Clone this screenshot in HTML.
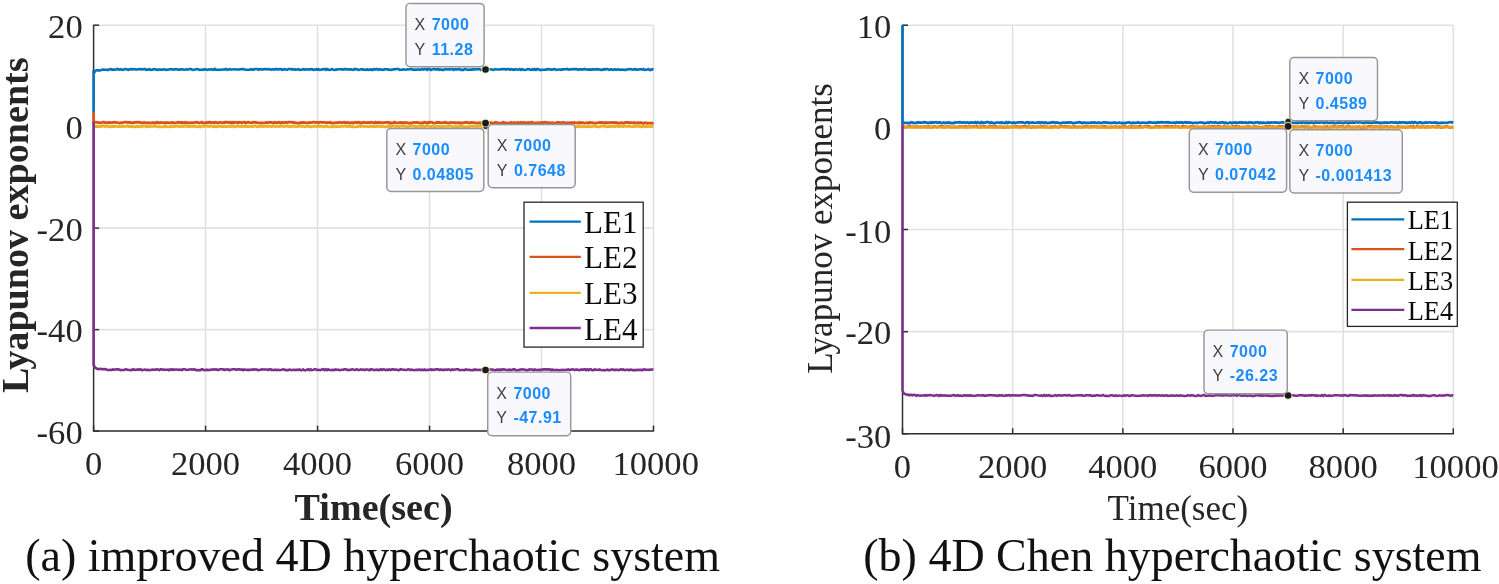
<!DOCTYPE html>
<html><head><meta charset="utf-8"><title>Lyapunov exponents</title>
<style>
html,body{margin:0;padding:0;background:#fff;}
body{width:1499px;height:584px;overflow:hidden;font-family:"Liberation Serif",serif;}
svg{display:block;position:absolute;left:0;top:0;will-change:transform;}
.g{stroke:#e1e1e1;stroke-width:1.6;}
.ax{stroke:#303030;stroke-width:1.5;}
.tk{font-family:"Liberation Serif",serif;fill:#262626;}
.lb{font-family:"Liberation Serif",serif;fill:#262626;}
.lg{font-family:"Liberation Serif",serif;fill:#0a0a0a;}
.cap{font-family:"Liberation Serif",serif;fill:#111;}
.tl{font-family:"Liberation Sans",sans-serif;font-size:16px;fill:#404040;}
.tv{font-family:"Liberation Sans",sans-serif;font-size:16px;font-weight:bold;fill:#1a8cff;letter-spacing:0.5px;}
</style></head><body>
<svg width="1499" height="584" viewBox="0 0 1499 584">
<rect x="0" y="0" width="1499" height="584" fill="#ffffff"/>
<line x1="205.58" y1="25.2" x2="205.58" y2="431.1" class="g"/>
<line x1="317.56" y1="25.2" x2="317.56" y2="431.1" class="g"/>
<line x1="429.54" y1="25.2" x2="429.54" y2="431.1" class="g"/>
<line x1="541.52" y1="25.2" x2="541.52" y2="431.1" class="g"/>
<line x1="653.50" y1="25.2" x2="653.50" y2="431.1" class="g"/>
<line x1="93.6" y1="25.20" x2="653.5" y2="25.20" class="g"/>
<line x1="93.6" y1="126.68" x2="653.5" y2="126.68" class="g"/>
<line x1="93.6" y1="228.15" x2="653.5" y2="228.15" class="g"/>
<line x1="93.6" y1="329.63" x2="653.5" y2="329.63" class="g"/>
<line x1="93.6" y1="431.10" x2="653.5" y2="431.10" class="g"/>
<line x1="93.6" y1="24.7" x2="93.6" y2="431.6" class="ax"/>
<line x1="93.1" y1="431.1" x2="654.0" y2="431.1" class="ax"/>
<line x1="93.60" y1="431.1" x2="93.60" y2="425.6" class="ax"/>
<text x="93.60" y="474.70000000000005" text-anchor="middle" class="tk" font-size="34.6">0</text>
<line x1="205.58" y1="431.1" x2="205.58" y2="425.6" class="ax"/>
<text x="205.58" y="474.70000000000005" text-anchor="middle" class="tk" font-size="34.6">2000</text>
<line x1="317.56" y1="431.1" x2="317.56" y2="425.6" class="ax"/>
<text x="317.56" y="474.70000000000005" text-anchor="middle" class="tk" font-size="34.6">4000</text>
<line x1="429.54" y1="431.1" x2="429.54" y2="425.6" class="ax"/>
<text x="429.54" y="474.70000000000005" text-anchor="middle" class="tk" font-size="34.6">6000</text>
<line x1="541.52" y1="431.1" x2="541.52" y2="425.6" class="ax"/>
<text x="541.52" y="474.70000000000005" text-anchor="middle" class="tk" font-size="34.6">8000</text>
<line x1="653.50" y1="431.1" x2="653.50" y2="425.6" class="ax"/>
<text x="655.70" y="474.70000000000005" text-anchor="middle" class="tk" font-size="34.6">10000</text>
<line x1="93.6" y1="25.20" x2="99.1" y2="25.20" class="ax"/>
<text x="82.69999999999999" y="37.90" text-anchor="end" class="tk" font-size="34.6">20</text>
<line x1="93.6" y1="126.68" x2="99.1" y2="126.68" class="ax"/>
<text x="82.69999999999999" y="139.38" text-anchor="end" class="tk" font-size="34.6">0</text>
<line x1="93.6" y1="228.15" x2="99.1" y2="228.15" class="ax"/>
<text x="82.69999999999999" y="240.85" text-anchor="end" class="tk" font-size="34.6">-20</text>
<line x1="93.6" y1="329.63" x2="99.1" y2="329.63" class="ax"/>
<text x="82.69999999999999" y="342.33" text-anchor="end" class="tk" font-size="34.6">-40</text>
<line x1="93.6" y1="431.10" x2="99.1" y2="431.10" class="ax"/>
<text x="82.69999999999999" y="443.80" text-anchor="end" class="tk" font-size="34.6">-60</text>
<path d="M93.6,124.6L95.3,126.4L96.5,126.11L97.8,126.42L99.0,126.24L100.3,126.48L101.5,126.50L102.8,125.94L104.0,125.88L105.3,126.71L106.5,126.13L107.8,126.11L109.0,126.87L110.3,126.34L111.6,126.71L112.8,126.35L114.1,126.51L115.3,126.02L116.6,126.51L117.8,126.74L119.1,126.40L120.3,126.61L121.6,126.54L122.8,125.94L124.1,126.63L125.3,126.46L126.6,126.18L127.8,125.91L129.1,126.74L130.3,126.35L131.6,126.59L132.8,126.75L134.1,126.59L135.3,126.80L136.6,126.27L137.8,126.68L139.1,126.32L140.3,126.81L141.6,126.75L142.8,125.97L144.1,126.01L145.3,126.09L146.6,126.84L147.8,126.31L149.1,126.50L150.4,126.18L151.6,126.38L152.9,126.26L154.1,126.23L155.4,126.46L156.6,126.46L157.9,126.78L159.1,126.56L160.4,126.81L161.6,126.73L162.9,126.87L164.1,126.55L165.4,126.04L166.6,126.74L167.9,126.84L169.1,126.78L170.4,126.45L171.6,126.59L172.9,126.09L174.1,126.71L175.4,126.45L176.6,126.16L177.9,125.94L179.1,126.73L180.4,126.87L181.6,125.97L182.9,126.68L184.1,126.29L185.4,126.03L186.6,126.17L187.9,126.65L189.2,126.75L190.4,125.93L191.7,126.50L192.9,125.93L194.2,126.60L195.4,126.21L196.7,126.76L197.9,126.86L199.2,126.39L200.4,126.88L201.7,126.19L202.9,125.96L204.2,126.48L205.4,125.91L206.7,126.08L207.9,126.29L209.2,126.49L210.4,126.04L211.7,125.93L212.9,126.75L214.2,126.20L215.4,126.84L216.7,126.78L217.9,126.26L219.2,126.34L220.4,126.40L221.7,126.53L222.9,126.48L224.2,126.44L225.4,126.50L226.7,126.83L228.0,126.39L229.2,126.32L230.5,126.61L231.7,126.12L233.0,126.19L234.2,126.86L235.5,126.41L236.7,126.43L238.0,125.90L239.2,126.30L240.5,126.47L241.7,125.91L243.0,126.50L244.2,126.52L245.5,125.95L246.7,126.51L248.0,126.35L249.2,126.57L250.5,126.24L251.7,126.59L253.0,126.63L254.2,125.91L255.5,125.95L256.7,126.56L258.0,126.85L259.2,126.14L260.5,126.34L261.7,126.48L263.0,126.21L264.2,126.25L265.5,126.20L266.8,126.26L268.0,126.49L269.3,126.19L270.5,126.27L271.8,126.66L273.0,125.92L274.3,126.46L275.5,126.63L276.8,126.20L278.0,126.11L279.3,126.69L280.5,126.13L281.8,126.08L283.0,126.33L284.3,126.59L285.5,125.99L286.8,126.21L288.0,126.23L289.3,126.73L290.5,126.33L291.8,126.75L293.0,126.06L294.3,126.23L295.5,126.54L296.8,126.78L298.0,126.34L299.3,126.12L300.5,126.01L301.8,126.42L303.0,126.08L304.3,126.70L305.6,126.73L306.8,126.08L308.1,126.17L309.3,126.70L310.6,126.54L311.8,126.70L313.1,126.24L314.3,126.02L315.6,126.19L316.8,126.69L318.1,126.17L319.3,126.24L320.6,126.31L321.8,126.32L323.1,126.30L324.3,126.82L325.6,126.05L326.8,125.90L328.1,126.84L329.3,126.78L330.6,126.88L331.8,126.33L333.1,126.85L334.3,126.82L335.6,126.12L336.8,126.64L338.1,126.73L339.3,126.56L340.6,126.42L341.8,126.19L343.1,126.24L344.4,126.13L345.6,125.97L346.9,126.49L348.1,126.19L349.4,126.71L350.6,125.94L351.9,126.80L353.1,126.59L354.4,126.82L355.6,126.80L356.9,126.80L358.1,126.48L359.4,125.91L360.6,126.64L361.9,126.07L363.1,126.20L364.4,126.56L365.6,126.43L366.9,126.31L368.1,126.84L369.4,126.51L370.6,126.24L371.9,126.15L373.1,126.76L374.4,126.38L375.6,126.68L376.9,126.25L378.1,126.10L379.4,126.44L380.6,126.72L381.9,126.07L383.2,126.69L384.4,126.82L385.7,126.71L386.9,126.73L388.2,125.91L389.4,126.53L390.7,126.77L391.9,125.95L393.2,126.17L394.4,126.17L395.7,126.43L396.9,126.33L398.2,126.38L399.4,126.68L400.7,125.91L401.9,125.96L403.2,126.03L404.4,126.03L405.7,125.97L406.9,126.88L408.2,126.76L409.4,125.99L410.7,126.41L411.9,126.22L413.2,126.22L414.4,126.26L415.7,126.55L416.9,126.49L418.2,126.27L419.4,126.10L420.7,126.23L422.0,126.03L423.2,126.46L424.5,126.62L425.7,126.29L427.0,125.99L428.2,126.09L429.5,126.28L430.7,126.51L432.0,126.69L433.2,126.29L434.5,126.71L435.7,126.53L437.0,126.34L438.2,126.28L439.5,126.40L440.7,126.61L442.0,126.33L443.2,126.60L444.5,126.37L445.7,126.15L447.0,126.44L448.2,126.60L449.5,125.98L450.7,126.33L452.0,126.34L453.2,126.79L454.5,126.85L455.7,126.28L457.0,126.81L458.2,126.70L459.5,126.17L460.8,126.37L462.0,126.03L463.3,126.72L464.5,126.57L465.8,126.80L467.0,126.70L468.3,126.58L469.5,126.65L470.8,126.48L472.0,126.01L473.3,126.50L474.5,125.92L475.8,126.06L477.0,126.69L478.3,125.96L479.5,126.00L480.8,126.01L482.0,126.79L483.3,126.09L484.5,125.94L485.8,126.75L487.0,126.03L488.3,126.76L489.5,126.59L490.8,126.75L492.0,126.87L493.3,126.49L494.5,126.71L495.8,125.95L497.0,126.68L498.3,126.43L499.6,126.63L500.8,126.02L502.1,126.66L503.3,126.85L504.6,125.98L505.8,126.24L507.1,126.48L508.3,126.74L509.6,126.16L510.8,126.10L512.1,126.17L513.3,126.53L514.6,126.67L515.8,126.31L517.1,126.28L518.3,126.31L519.6,126.27L520.8,126.34L522.1,126.00L523.3,126.42L524.6,126.89L525.8,126.33L527.1,126.67L528.3,126.08L529.6,126.61L530.8,126.67L532.1,126.59L533.3,126.44L534.6,126.40L535.8,126.56L537.1,126.82L538.4,126.07L539.6,126.01L540.9,126.67L542.1,126.84L543.4,126.44L544.6,126.36L545.9,126.64L547.1,126.11L548.4,126.19L549.6,126.12L550.9,126.51L552.1,126.24L553.4,126.15L554.6,126.61L555.9,126.87L557.1,126.22L558.4,126.63L559.6,126.33L560.9,126.77L562.1,126.51L563.4,126.19L564.6,126.14L565.9,125.95L567.1,126.40L568.4,126.30L569.6,126.09L570.9,126.28L572.1,126.24L573.4,126.70L574.6,126.07L575.9,126.91L577.2,126.40L578.4,126.52L579.7,126.39L580.9,126.76L582.2,126.75L583.4,126.48L584.7,126.41L585.9,126.64L587.2,126.78L588.4,126.32L589.7,126.66L590.9,126.88L592.2,126.39L593.4,126.15L594.7,126.16L595.9,126.64L597.2,126.60L598.4,126.88L599.7,126.78L600.9,126.17L602.2,126.12L603.4,126.18L604.7,126.11L605.9,126.63L607.2,126.79L608.4,126.83L609.7,126.18L610.9,126.79L612.2,126.24L613.4,126.35L614.7,126.66L616.0,126.01L617.2,126.02L618.5,126.76L619.7,126.22L621.0,126.28L622.2,126.51L623.5,126.60L624.7,125.94L626.0,126.26L627.2,126.36L628.5,126.41L629.7,126.14L631.0,126.51L632.2,126.88L633.5,126.32L634.7,126.47L636.0,126.05L637.2,126.20L638.5,126.60L639.7,126.04L641.0,126.82L642.2,126.84L643.5,126.03L644.7,126.87L646.0,126.30L647.2,126.70L648.5,126.69L649.7,126.23L651.0,126.61L652.2,126.59L653.5,126.43" fill="none" stroke="#EDB120" stroke-width="2.8" stroke-opacity="1" stroke-linejoin="miter" stroke-miterlimit="2"/>
<path d="M93.6,111.5L93.6,121.9L99.2,122.5L100.5,122.97L101.7,122.96L103.0,122.07L104.2,122.10L105.5,122.85L106.7,122.75L108.0,122.69L109.2,122.33L110.5,122.63L111.7,122.63L113.0,122.60L114.2,122.18L115.5,122.45L116.7,122.42L118.0,122.75L119.2,123.02L120.5,122.97L121.7,122.57L123.0,122.47L124.2,122.30L125.5,122.06L126.7,122.06L128.0,122.49L129.2,122.35L130.5,122.41L131.7,122.92L133.0,122.56L134.2,122.59L135.5,122.27L136.7,122.06L138.0,122.36L139.2,122.17L140.5,122.55L141.7,123.03L143.0,122.71L144.2,122.22L145.5,122.93L146.7,122.84L148.0,122.77L149.2,122.95L150.5,122.80L151.8,122.83L153.0,122.40L154.3,123.02L155.5,123.00L156.8,122.20L158.0,122.80L159.3,122.76L160.5,122.51L161.8,122.58L163.0,122.54L164.3,122.97L165.5,122.55L166.8,122.88L168.0,122.40L169.3,122.93L170.5,122.95L171.8,122.51L173.0,122.62L174.3,122.97L175.5,122.78L176.8,122.54L178.0,122.28L179.3,122.38L180.5,122.76L181.8,122.22L183.0,122.96L184.3,122.33L185.5,122.97L186.8,122.37L188.0,123.02L189.3,122.77L190.5,122.56L191.8,122.58L193.0,122.71L194.3,122.65L195.5,122.38L196.8,122.27L198.0,122.58L199.3,123.00L200.5,122.69L201.8,122.14L203.1,122.89L204.3,122.79L205.6,122.98L206.8,122.26L208.1,122.81L209.3,122.13L210.6,122.72L211.8,122.34L213.1,122.30L214.3,122.95L215.6,122.18L216.8,122.60L218.1,122.93L219.3,122.32L220.6,122.29L221.8,122.96L223.1,122.50L224.3,122.79L225.6,122.11L226.8,122.44L228.1,122.25L229.3,122.75L230.6,122.16L231.8,123.04L233.1,122.11L234.3,122.81L235.6,122.10L236.8,122.34L238.1,122.90L239.3,122.24L240.6,122.27L241.8,122.78L243.1,122.47L244.3,122.13L245.6,123.08L246.8,122.24L248.1,122.13L249.3,122.43L250.6,122.71L251.9,122.83L253.1,122.21L254.4,122.43L255.6,122.12L256.9,122.54L258.1,122.86L259.4,122.84L260.6,123.00L261.9,122.85L263.1,122.96L264.4,122.80L265.6,122.57L266.9,122.32L268.1,122.76L269.4,122.42L270.6,122.20L271.9,122.55L273.1,122.98L274.4,122.23L275.6,122.69L276.9,122.50L278.1,122.62L279.4,122.25L280.6,123.07L281.9,122.37L283.1,122.71L284.4,122.53L285.6,122.13L286.9,122.67L288.1,122.25L289.4,122.17L290.6,122.14L291.9,122.27L293.1,122.21L294.4,122.75L295.6,122.62L296.9,123.10L298.1,123.05L299.4,123.11L300.6,122.35L301.9,122.56L303.2,122.37L304.4,122.71L305.7,122.74L306.9,122.92L308.2,122.83L309.4,122.38L310.7,122.54L311.9,122.65L313.2,122.13L314.4,122.16L315.7,122.53L316.9,122.24L318.2,122.85L319.4,122.37L320.7,122.23L321.9,122.31L323.2,122.36L324.4,122.35L325.7,122.65L326.9,122.59L328.2,122.44L329.4,122.77L330.7,122.34L331.9,123.04L333.2,123.10L334.4,122.86L335.7,122.57L336.9,122.65L338.2,122.72L339.4,122.19L340.7,122.55L341.9,122.66L343.2,122.32L344.4,122.23L345.7,122.94L346.9,122.51L348.2,122.66L349.4,123.06L350.7,122.75L352.0,122.43L353.2,123.13L354.5,122.52L355.7,122.16L357.0,122.83L358.2,122.25L359.5,122.45L360.7,122.99L362.0,122.82L363.2,122.16L364.5,122.60L365.7,122.56L367.0,122.64L368.2,122.36L369.5,122.74L370.7,122.23L372.0,122.44L373.2,122.53L374.5,123.09L375.7,122.23L377.0,122.91L378.2,122.35L379.5,122.73L380.7,122.55L382.0,122.62L383.2,122.91L384.5,122.55L385.7,122.28L387.0,122.28L388.2,122.24L389.5,123.01L390.7,122.80L392.0,123.12L393.2,122.86L394.5,122.19L395.7,122.82L397.0,122.94L398.2,122.89L399.5,122.66L400.7,122.52L402.0,122.62L403.3,122.97L404.5,122.44L405.8,122.70L407.0,122.65L408.3,123.13L409.5,122.98L410.8,123.10L412.0,123.01L413.3,122.47L414.5,122.41L415.8,122.66L417.0,122.43L418.3,122.60L419.5,122.86L420.8,123.10L422.0,122.76L423.3,123.00L424.5,122.27L425.8,122.54L427.0,123.18L428.3,122.33L429.5,122.60L430.8,122.25L432.0,122.27L433.3,123.08L434.5,123.17L435.8,122.83L437.0,122.31L438.3,122.48L439.5,122.42L440.8,122.86L442.0,122.87L443.3,122.63L444.5,122.71L445.8,122.30L447.0,122.73L448.3,123.14L449.5,122.95L450.8,122.29L452.0,122.71L453.3,122.91L454.6,122.45L455.8,123.09L457.1,122.66L458.3,122.90L459.6,122.60L460.8,123.19L462.1,122.98L463.3,122.77L464.6,122.34L465.8,122.64L467.1,122.23L468.3,122.80L469.6,123.08L470.8,122.38L472.1,122.71L473.3,122.69L474.6,122.61L475.8,122.92L477.1,123.14L478.3,122.91L479.6,122.68L480.8,123.17L482.1,122.54L483.3,122.95L484.6,122.87L485.8,122.97L487.1,123.06L488.3,122.44L489.6,122.83L490.8,122.62L492.1,122.88L493.3,123.19L494.6,122.85L495.8,122.23L497.1,122.68L498.3,122.93L499.6,123.10L500.8,122.87L502.1,123.03L503.4,122.24L504.6,123.16L505.9,122.95L507.1,122.83L508.4,123.13L509.6,123.11L510.9,122.32L512.1,123.04L513.4,122.99L514.6,122.42L515.9,122.97L517.1,122.81L518.4,122.42L519.6,123.03L520.9,122.37L522.1,122.84L523.4,122.66L524.6,122.48L525.9,122.80L527.1,122.70L528.4,122.44L529.6,123.20L530.9,122.31L532.1,122.24L533.4,122.72L534.6,123.07L535.9,122.89L537.1,122.99L538.4,122.72L539.6,122.91L540.9,122.57L542.1,122.51L543.4,122.74L544.6,122.27L545.9,122.32L547.1,122.99L548.4,122.42L549.6,122.99L550.9,123.03L552.1,122.65L553.4,122.92L554.7,123.03L555.9,123.11L557.2,122.38L558.4,122.41L559.7,122.63L560.9,122.71L562.2,122.54L563.4,122.26L564.7,122.81L565.9,123.22L567.2,122.62L568.4,122.79L569.7,122.63L570.9,122.70L572.2,123.12L573.4,122.56L574.7,122.90L575.9,122.74L577.2,122.79L578.4,123.17L579.7,122.33L580.9,123.08L582.2,122.56L583.4,122.91L584.7,123.06L585.9,122.91L587.2,122.65L588.4,123.10L589.7,122.36L590.9,122.90L592.2,122.65L593.4,122.79L594.7,123.12L595.9,123.06L597.2,122.89L598.4,122.57L599.7,122.50L600.9,122.73L602.2,122.50L603.5,122.55L604.7,123.23L606.0,122.38L607.2,123.09L608.5,122.65L609.7,122.64L611.0,122.59L612.2,122.35L613.5,122.73L614.7,122.44L616.0,122.72L617.2,122.57L618.5,123.17L619.7,123.20L621.0,122.72L622.2,122.92L623.5,123.21L624.7,122.61L626.0,122.38L627.2,122.52L628.5,122.47L629.7,122.96L631.0,122.66L632.2,122.64L633.5,123.08L634.7,122.52L636.0,123.09L637.2,122.92L638.5,122.69L639.7,123.11L641.0,122.63L642.2,123.17L643.5,123.22L644.7,122.79L646.0,122.98L647.2,123.24L648.5,123.03L649.7,123.04L651.0,123.16L652.2,123.23L653.5,122.79" fill="none" stroke="#D95319" stroke-width="2.8" stroke-opacity="1" stroke-linejoin="miter" stroke-miterlimit="2"/>
<path d="M93.6,111.5L93.6,70.6L94.7,72.1L95.8,70.6L97.4,70.05L98.9,70.58L100.5,70.30L102.0,69.85L103.3,69.57L104.5,69.77L105.8,69.69L107.1,69.85L108.4,69.95L109.6,69.22L110.9,69.12L112.2,69.89L113.5,69.45L114.7,69.74L116.0,69.44L117.2,68.95L118.5,69.39L119.7,69.66L121.0,69.17L122.2,69.89L123.5,69.84L124.7,68.97L126.0,68.97L127.2,69.48L128.5,69.88L129.7,69.32L131.0,69.16L132.2,69.37L133.5,68.97L134.7,69.16L136.0,69.38L137.2,69.44L138.5,69.18L139.7,69.17L141.0,69.16L142.2,69.40L143.5,69.23L144.7,68.96L146.0,69.78L147.2,69.50L148.5,69.59L149.7,69.13L151.0,69.94L152.2,69.80L153.5,69.06L154.7,69.28L156.0,69.66L157.2,69.65L158.5,69.88L159.7,69.37L161.0,69.77L162.2,69.61L163.5,69.25L164.7,69.53L166.0,69.83L167.2,69.79L168.5,69.45L169.7,69.53L171.0,68.98L172.2,69.19L173.5,69.74L174.7,69.36L176.0,69.12L177.2,69.49L178.5,69.65L179.7,69.62L181.0,69.32L182.2,69.38L183.5,69.45L184.7,69.72L186.0,69.46L187.2,69.34L188.5,69.43L189.7,68.97L191.0,68.99L192.2,69.65L193.5,69.93L194.7,69.54L196.0,69.34L197.2,69.11L198.5,69.45L199.7,69.93L201.0,69.71L202.2,69.48L203.5,69.80L204.7,69.18L206.0,69.46L207.2,69.90L208.5,69.52L209.7,69.40L211.0,69.21L212.2,69.49L213.5,69.90L214.7,68.95L216.0,69.73L217.2,69.76L218.5,69.83L219.7,69.68L221.0,69.75L222.2,69.46L223.5,69.50L224.7,69.37L226.0,69.00L227.2,69.81L228.5,69.51L229.7,69.14L231.0,69.45L232.2,69.43L233.5,69.30L234.7,69.29L236.0,69.48L237.2,69.57L238.5,69.56L239.7,69.40L241.0,68.97L242.2,69.17L243.5,69.12L244.7,69.53L246.0,69.80L247.2,69.74L248.5,69.74L249.7,69.76L251.0,69.20L252.2,69.78L253.5,69.62L254.7,69.03L256.0,68.96L257.2,68.96L258.5,69.70L259.7,69.19L261.0,69.05L262.2,69.57L263.5,69.29L264.7,69.01L266.0,69.10L267.2,69.47L268.5,69.11L269.7,69.22L271.0,69.65L272.2,69.40L273.5,69.27L274.7,69.42L276.0,68.97L277.2,69.33L278.5,69.36L279.7,69.13L281.0,69.05L282.2,69.84L283.5,69.45L284.7,69.15L286.0,69.55L287.2,69.76L288.5,68.96L289.7,68.96L291.0,69.09L292.2,69.66L293.5,69.10L294.7,69.65L296.0,69.62L297.2,69.49L298.5,69.16L299.7,69.92L301.0,69.74L302.2,69.46L303.5,69.17L304.7,69.59L306.0,69.34L307.2,69.52L308.5,69.26L309.7,69.57L311.0,69.00L312.2,69.24L313.5,69.91L314.7,69.82L316.0,69.25L317.2,69.80L318.5,69.25L319.7,69.88L321.0,69.69L322.2,69.36L323.5,69.20L324.7,68.95L326.0,69.82L327.2,68.98L328.5,69.76L329.7,69.91L331.0,69.51L332.2,69.11L333.5,69.81L334.7,69.92L336.0,69.65L337.2,69.45L338.5,69.32L339.7,69.29L341.0,69.15L342.2,69.62L343.5,69.38L344.7,69.14L346.0,69.05L347.2,69.61L348.5,69.24L349.7,69.44L351.0,69.27L352.2,69.81L353.5,69.84L354.7,68.96L356.0,69.14L357.2,69.27L358.5,69.93L359.7,69.73L361.0,69.28L362.2,69.16L363.5,69.62L364.7,69.78L366.0,69.88L367.2,69.29L368.5,69.83L369.7,69.63L371.0,69.43L372.2,69.93L373.5,69.18L374.7,69.67L376.0,69.03L377.2,69.11L378.5,69.85L379.7,69.16L381.0,69.70L382.2,69.54L383.5,69.78L384.7,69.31L386.0,69.28L387.2,69.23L388.5,69.81L389.7,69.55L391.0,69.90L392.2,69.83L393.5,69.08L394.7,69.49L396.0,69.05L397.2,68.98L398.5,69.02L399.7,69.81L401.0,69.73L402.2,69.77L403.5,69.28L404.7,69.56L406.0,69.73L407.2,69.32L408.5,69.51L409.7,69.17L411.0,69.02L412.2,69.21L413.5,69.83L414.7,69.51L416.0,69.87L417.2,69.40L418.5,69.22L419.7,69.73L421.0,69.77L422.2,68.96L423.5,69.61L424.7,69.03L426.0,69.06L427.2,69.83L428.5,68.98L429.7,69.18L431.0,69.93L432.2,69.36L433.5,69.06L434.7,69.11L436.0,69.18L437.2,69.69L438.5,69.05L439.7,69.85L441.0,69.32L442.2,69.91L443.5,69.85L444.7,69.24L446.0,69.20L447.2,69.42L448.5,69.04L449.7,69.60L451.0,68.98L452.2,68.95L453.5,69.93L454.7,69.24L456.0,69.54L457.2,69.39L458.5,69.26L459.7,69.01L461.0,69.86L462.2,69.91L463.5,69.91L464.7,69.05L466.0,69.16L467.2,69.56L468.5,69.92L469.7,69.49L471.0,69.63L472.2,69.60L473.5,69.20L474.7,69.48L476.0,69.25L477.2,69.19L478.5,69.02L479.7,69.22L481.0,69.93L482.2,69.39L483.5,69.60L484.7,69.59L486.0,69.88L487.2,69.33L488.5,69.25L489.7,69.27L491.0,69.26L492.2,69.79L493.5,69.84L494.7,69.25L496.0,69.28L497.2,69.49L498.5,69.52L499.7,69.54L501.0,69.19L502.2,68.96L503.5,69.19L504.7,69.02L506.0,69.49L507.2,69.01L508.5,69.02L509.7,69.58L511.0,69.23L512.2,69.74L513.5,69.44L514.7,69.81L516.0,69.10L517.2,69.44L518.5,69.74L519.7,69.02L521.0,69.89L522.2,69.12L523.5,69.72L524.7,69.93L526.0,69.76L527.2,69.26L528.5,69.05L529.7,69.46L531.0,69.86L532.2,69.24L533.5,69.84L534.7,69.08L536.0,69.85L537.2,68.97L538.5,69.26L539.7,69.85L541.0,69.75L542.2,69.85L543.5,69.78L544.7,69.69L546.0,69.63L547.2,69.12L548.5,69.38L549.7,69.10L551.0,69.66L552.2,69.61L553.5,69.20L554.7,69.01L556.0,69.91L557.2,69.75L558.5,69.49L559.7,69.48L561.0,69.79L562.2,69.40L563.5,69.34L564.7,69.28L566.0,69.20L567.2,68.97L568.5,69.59L569.7,69.36L571.0,69.51L572.2,69.01L573.5,69.30L574.7,69.08L576.0,69.07L577.2,69.20L578.5,69.77L579.7,69.34L581.0,69.34L582.2,69.56L583.5,69.18L584.7,68.95L586.0,69.47L587.2,69.44L588.5,69.59L589.7,69.38L591.0,69.63L592.2,69.67L593.5,69.18L594.7,69.44L596.0,69.42L597.2,69.17L598.5,69.36L599.7,69.50L601.0,69.85L602.2,69.86L603.5,69.22L604.7,69.59L606.0,68.99L607.2,69.01L608.5,69.45L609.7,69.82L611.0,69.10L612.2,69.71L613.5,69.83L614.7,69.25L616.0,69.64L617.2,69.79L618.5,69.31L619.7,69.64L621.0,69.68L622.2,69.54L623.5,69.80L624.7,69.84L626.0,69.90L627.2,69.51L628.5,69.12L629.7,69.19L631.0,69.16L632.2,69.51L633.5,69.70L634.7,69.00L636.0,69.62L637.2,69.66L638.5,69.29L639.7,69.46L641.0,69.11L642.2,69.67L643.5,68.98L644.7,69.92L646.0,69.75L647.2,69.57L648.5,69.21L649.7,69.86L651.0,69.90L652.2,69.08L653.5,69.44" fill="none" stroke="#0072BD" stroke-width="2.6" stroke-opacity="1" stroke-linejoin="miter" stroke-miterlimit="2"/>
<path d="M93.6,122.1L93.6,364.6L95.0,367.7L98.1,369.2L99.4,368.99L100.8,368.92L102.2,369.27L103.6,369.08L104.9,369.05L106.3,369.44L107.7,370.01L109.0,369.95L110.4,369.71L111.6,369.97L112.9,369.43L114.2,369.74L115.4,369.48L116.7,369.38L117.9,369.31L119.2,369.42L120.4,370.14L121.7,370.04L122.9,370.02L124.2,370.01L125.4,369.40L126.7,369.52L127.9,369.84L129.2,369.94L130.4,370.06L131.7,370.09L132.9,369.30L134.2,369.82L135.4,369.88L136.7,369.72L137.9,369.39L139.2,369.68L140.4,369.30L141.7,370.15L142.9,370.08L144.2,369.76L145.4,369.51L146.7,370.12L147.9,369.78L149.2,370.09L150.4,370.06L151.7,369.72L152.9,369.63L154.2,369.81L155.4,369.64L156.7,369.37L157.9,369.52L159.2,370.02L160.5,369.26L161.7,369.26L163.0,369.84L164.2,369.49L165.5,369.75L166.7,369.68L168.0,369.56L169.2,370.21L170.5,369.41L171.7,369.63L173.0,369.42L174.2,369.85L175.5,369.49L176.7,369.57L178.0,369.96L179.2,369.53L180.5,369.77L181.7,370.12L183.0,369.32L184.2,369.28L185.5,369.44L186.7,369.98L188.0,369.83L189.2,369.45L190.5,369.55L191.7,369.39L193.0,369.67L194.2,369.26L195.5,369.91L196.7,370.11L198.0,370.17L199.2,369.95L200.5,370.18L201.7,369.23L203.0,369.51L204.3,370.18L205.5,369.99L206.8,369.63L208.0,370.16L209.3,369.84L210.5,370.03L211.8,369.51L213.0,369.41L214.3,369.66L215.5,369.35L216.8,369.60L218.0,370.18L219.3,369.55L220.5,369.23L221.8,369.26L223.0,369.39L224.3,370.00L225.5,369.58L226.8,369.51L228.0,369.32L229.3,370.20L230.5,369.64L231.8,369.43L233.0,369.28L234.3,369.27L235.5,369.39L236.8,369.90L238.0,369.37L239.3,369.26L240.5,369.71L241.8,369.47L243.0,370.22L244.3,369.34L245.5,369.75L246.8,369.99L248.0,369.63L249.3,370.21L250.6,369.70L251.8,369.46L253.1,369.63L254.3,369.26L255.6,369.64L256.8,369.47L258.1,370.11L259.3,370.05L260.6,369.72L261.8,369.25L263.1,369.48L264.3,369.46L265.6,369.43L266.8,369.45L268.1,370.09L269.3,369.36L270.6,369.27L271.8,370.15L273.1,369.79L274.3,370.21L275.6,369.63L276.8,370.12L278.1,369.88L279.3,370.01L280.6,369.97L281.8,369.72L283.1,369.32L284.3,369.43L285.6,370.10L286.8,370.12L288.1,370.15L289.3,369.56L290.6,369.88L291.8,370.02L293.1,369.87L294.4,370.04L295.6,369.75L296.9,369.88L298.1,369.91L299.4,369.49L300.6,370.15L301.9,370.18L303.1,369.30L304.4,370.20L305.6,370.19L306.9,369.89L308.1,369.27L309.4,370.13L310.6,369.35L311.9,370.19L313.1,369.89L314.4,369.29L315.6,369.39L316.9,369.86L318.1,369.80L319.4,369.97L320.6,370.15L321.9,369.45L323.1,369.23L324.4,370.15L325.6,369.24L326.9,370.10L328.1,369.34L329.4,370.04L330.6,370.01L331.9,370.11L333.1,369.78L334.4,370.11L335.6,369.43L336.9,369.90L338.1,369.56L339.4,370.12L340.7,370.00L341.9,369.70L343.2,369.76L344.4,369.26L345.7,369.26L346.9,369.82L348.2,369.72L349.4,370.09L350.7,369.84L351.9,369.37L353.2,369.59L354.4,370.00L355.7,369.75L356.9,369.24L358.2,370.07L359.4,370.06L360.7,369.32L361.9,369.77L363.2,369.61L364.4,370.02L365.7,369.54L366.9,369.47L368.2,369.72L369.4,370.20L370.7,369.33L371.9,369.35L373.2,369.85L374.4,370.12L375.7,369.74L376.9,369.67L378.2,370.09L379.4,370.01L380.7,369.30L381.9,370.11L383.2,369.43L384.5,369.54L385.7,370.07L387.0,369.66L388.2,370.03L389.5,369.40L390.7,370.11L392.0,369.41L393.2,369.38L394.5,369.73L395.7,369.57L397.0,369.78L398.2,370.14L399.5,369.95L400.7,369.24L402.0,369.55L403.2,369.78L404.5,369.72L405.7,369.95L407.0,369.72L408.2,369.31L409.5,369.48L410.7,370.08L412.0,369.59L413.2,370.00L414.5,370.22L415.7,369.86L417.0,369.91L418.2,369.85L419.5,369.55L420.7,370.15L422.0,369.70L423.2,370.15L424.5,369.54L425.7,370.10L427.0,370.02L428.2,369.85L429.5,369.68L430.8,369.38L432.0,370.01L433.3,369.60L434.5,369.90L435.8,369.37L437.0,369.32L438.3,369.38L439.5,370.05L440.8,369.42L442.0,370.14L443.3,369.61L444.5,369.81L445.8,369.59L447.0,369.86L448.3,369.33L449.5,369.64L450.8,370.18L452.0,369.42L453.3,369.89L454.5,369.57L455.8,369.54L457.0,369.26L458.3,369.26L459.5,370.19L460.8,370.07L462.0,370.04L463.3,370.05L464.5,370.19L465.8,369.40L467.0,369.83L468.3,369.74L469.5,369.82L470.8,370.18L472.0,370.00L473.3,370.21L474.6,369.36L475.8,369.89L477.1,369.92L478.3,369.99L479.6,369.86L480.8,370.07L482.1,369.55L483.3,370.17L484.6,369.65L485.8,369.84L487.1,370.14L488.3,369.95L489.6,369.55L490.8,369.47L492.1,369.57L493.3,369.87L494.6,370.24L495.8,370.14L497.1,369.64L498.3,369.64L499.6,370.06L500.8,369.53L502.1,369.66L503.3,369.26L504.6,369.43L505.8,369.78L507.1,369.94L508.3,369.86L509.6,369.61L510.8,370.20L512.1,369.87L513.3,369.40L514.6,369.31L515.8,370.22L517.1,370.23L518.3,370.17L519.6,369.85L520.9,369.56L522.1,369.34L523.4,369.50L524.6,369.47L525.9,370.17L527.1,370.14L528.4,370.02L529.6,369.40L530.9,369.49L532.1,369.55L533.4,370.20L534.6,369.41L535.9,370.04L537.1,369.93L538.4,369.79L539.6,370.21L540.9,369.51L542.1,369.77L543.4,369.41L544.6,369.34L545.9,369.28L547.1,369.56L548.4,369.37L549.6,369.31L550.9,370.24L552.1,369.54L553.4,370.14L554.6,369.95L555.9,369.98L557.1,369.90L558.4,370.20L559.6,370.13L560.9,369.97L562.1,369.81L563.4,369.94L564.7,369.97L565.9,369.80L567.2,369.75L568.4,369.40L569.7,370.09L570.9,369.73L572.2,369.32L573.4,369.42L574.7,370.13L575.9,369.51L577.2,369.64L578.4,369.93L579.7,370.11L580.9,369.58L582.2,369.64L583.4,369.67L584.7,369.28L585.9,370.13L587.2,369.27L588.4,370.21L589.7,369.40L590.9,369.41L592.2,370.10L593.4,370.08L594.7,369.48L595.9,369.81L597.2,369.73L598.4,369.97L599.7,369.44L600.9,370.08L602.2,370.25L603.4,369.96L604.7,370.18L605.9,370.19L607.2,369.63L608.4,370.10L609.7,370.09L611.0,369.84L612.2,369.36L613.5,369.87L614.7,370.17L616.0,369.56L617.2,369.90L618.5,370.15L619.7,369.86L621.0,369.29L622.2,369.89L623.5,369.51L624.7,370.11L626.0,369.92L627.2,369.56L628.5,370.15L629.7,369.88L631.0,369.60L632.2,370.09L633.5,370.15L634.7,370.15L636.0,370.14L637.2,369.92L638.5,369.96L639.7,369.86L641.0,369.78L642.2,370.24L643.5,369.61L644.7,369.34L646.0,369.97L647.2,369.76L648.5,369.80L649.7,369.86L651.0,369.51L652.2,369.46L653.5,369.76" fill="none" stroke="#7E2F8E" stroke-width="2.6" stroke-opacity="1" stroke-linejoin="miter" stroke-miterlimit="2"/>
<text transform="translate(373.6,519.5) scale(1.016,1)" text-anchor="middle" class="lb" font-size="37.5" font-weight="bold">Time(sec)</text>
<text transform="translate(28.3,225.2) rotate(-90) scale(1.016,1)" text-anchor="middle" class="lb" font-size="37.5" font-weight="bold">Lyapunov exponents</text>
<rect x="524" y="202.2" width="119.20000000000005" height="144.90000000000003" fill="#fff" stroke="#262626" stroke-width="1.3"/>
<line x1="529.6" y1="221.6" x2="580.8" y2="221.6" stroke="#0072BD" stroke-width="2.3"/>
<text transform="translate(584.0,232.6) scale(0.97,1)" class="lg" font-size="32">LE1</text>
<line x1="529.6" y1="256.9" x2="580.8" y2="256.9" stroke="#D95319" stroke-width="2.3"/>
<text transform="translate(584.0,268.3) scale(0.97,1)" class="lg" font-size="32">LE2</text>
<line x1="529.6" y1="292.8" x2="580.8" y2="292.8" stroke="#EDB120" stroke-width="2.3"/>
<text transform="translate(584.0,304.2) scale(0.97,1)" class="lg" font-size="32">LE3</text>
<line x1="529.6" y1="328.0" x2="580.8" y2="328.0" stroke="#7E2F8E" stroke-width="2.3"/>
<text transform="translate(584.0,340.0) scale(0.97,1)" class="lg" font-size="32">LE4</text>
<circle cx="485.53" cy="69.44" r="4.4" fill="#ece6b4" opacity="0.8"/>
<circle cx="485.53" cy="69.44" r="3.3" fill="#1a1a1a"/>
<circle cx="485.53" cy="126.68" r="3.5" fill="#ece6b4" opacity="0.8"/>
<circle cx="485.53" cy="126.68" r="2.4" fill="#1a1a1a"/>
<circle cx="485.53" cy="123.12" r="4.5" fill="#ece6b4" opacity="0.8"/>
<circle cx="485.53" cy="123.12" r="3.4" fill="#1a1a1a"/>
<circle cx="485.53" cy="369.96" r="4.4" fill="#ece6b4" opacity="0.8"/>
<circle cx="485.53" cy="369.96" r="3.3" fill="#1a1a1a"/>
<rect x="406" y="3.4" width="78.10" height="63.40" rx="4.2" ry="4.2" fill="#f9f9fd" stroke="#969696" stroke-width="1.45"/>
<text x="414.60" y="29.90" class="tl">X</text>
<text x="414.60" y="54.70" class="tl">Y</text>
<text x="431.70" y="29.90" class="tv">7000</text>
<text x="431.70" y="54.70" class="tv">11.28</text>
<rect x="386.8" y="128.4" width="97.00" height="63.00" rx="4.2" ry="4.2" fill="#f9f9fd" stroke="#969696" stroke-width="1.45"/>
<text x="395.40" y="154.90" class="tl">X</text>
<text x="395.40" y="179.70" class="tl">Y</text>
<text x="412.50" y="154.90" class="tv">7000</text>
<text x="412.50" y="179.70" class="tv">0.04805</text>
<rect x="488.2" y="124.5" width="87.00" height="63.20" rx="4.2" ry="4.2" fill="#f9f9fd" stroke="#969696" stroke-width="1.45"/>
<text x="496.80" y="151.00" class="tl">X</text>
<text x="496.80" y="175.80" class="tl">Y</text>
<text x="513.90" y="151.00" class="tv">7000</text>
<text x="513.90" y="175.80" class="tv">0.7648</text>
<rect x="487.7" y="372.1" width="83.00" height="63.70" rx="4.2" ry="4.2" fill="#f9f9fd" stroke="#969696" stroke-width="1.45"/>
<text x="496.30" y="398.60" class="tl">X</text>
<text x="496.30" y="423.40" class="tl">Y</text>
<text x="513.40" y="398.60" class="tv">7000</text>
<text x="513.40" y="423.40" class="tv">-47.91</text>
<line x1="1012.66" y1="25.2" x2="1012.66" y2="433.8" class="g"/>
<line x1="1122.82" y1="25.2" x2="1122.82" y2="433.8" class="g"/>
<line x1="1232.98" y1="25.2" x2="1232.98" y2="433.8" class="g"/>
<line x1="1343.14" y1="25.2" x2="1343.14" y2="433.8" class="g"/>
<line x1="1453.30" y1="25.2" x2="1453.30" y2="433.8" class="g"/>
<line x1="902.5" y1="25.20" x2="1453.3" y2="25.20" class="g"/>
<line x1="902.5" y1="127.35" x2="1453.3" y2="127.35" class="g"/>
<line x1="902.5" y1="229.50" x2="1453.3" y2="229.50" class="g"/>
<line x1="902.5" y1="331.65" x2="1453.3" y2="331.65" class="g"/>
<line x1="902.5" y1="433.80" x2="1453.3" y2="433.80" class="g"/>
<line x1="902.5" y1="24.7" x2="902.5" y2="434.3" class="ax"/>
<line x1="902.0" y1="433.8" x2="1453.8" y2="433.8" class="ax"/>
<line x1="902.50" y1="433.8" x2="902.50" y2="428.3" class="ax"/>
<text x="902.50" y="477.6" text-anchor="middle" class="tk" font-size="34.6">0</text>
<line x1="1012.66" y1="433.8" x2="1012.66" y2="428.3" class="ax"/>
<text x="1012.66" y="477.6" text-anchor="middle" class="tk" font-size="34.6">2000</text>
<line x1="1122.82" y1="433.8" x2="1122.82" y2="428.3" class="ax"/>
<text x="1122.82" y="477.6" text-anchor="middle" class="tk" font-size="34.6">4000</text>
<line x1="1232.98" y1="433.8" x2="1232.98" y2="428.3" class="ax"/>
<text x="1232.98" y="477.6" text-anchor="middle" class="tk" font-size="34.6">6000</text>
<line x1="1343.14" y1="433.8" x2="1343.14" y2="428.3" class="ax"/>
<text x="1343.14" y="477.6" text-anchor="middle" class="tk" font-size="34.6">8000</text>
<line x1="1453.30" y1="433.8" x2="1453.30" y2="428.3" class="ax"/>
<text x="1455.50" y="477.6" text-anchor="middle" class="tk" font-size="34.6">10000</text>
<line x1="902.5" y1="25.20" x2="908.0" y2="25.20" class="ax"/>
<text x="891.3" y="37.50" text-anchor="end" class="tk" font-size="34.6">10</text>
<line x1="902.5" y1="127.35" x2="908.0" y2="127.35" class="ax"/>
<text x="891.3" y="139.50" text-anchor="end" class="tk" font-size="34.6">0</text>
<line x1="902.5" y1="229.50" x2="908.0" y2="229.50" class="ax"/>
<text x="891.3" y="243.20" text-anchor="end" class="tk" font-size="34.6">-10</text>
<line x1="902.5" y1="331.65" x2="908.0" y2="331.65" class="ax"/>
<text x="891.3" y="344.00" text-anchor="end" class="tk" font-size="34.6">-20</text>
<line x1="902.5" y1="433.80" x2="908.0" y2="433.80" class="ax"/>
<text x="891.3" y="447.50" text-anchor="end" class="tk" font-size="34.6">-30</text>
<path d="M902.5,124.3L903.6,126.8L904.9,127.13L906.1,127.16L907.4,126.82L908.6,126.60L909.9,126.34L911.1,127.00L912.4,126.81L913.6,127.10L914.9,126.71L916.1,127.11L917.4,126.61L918.6,127.14L919.9,127.07L921.1,126.76L922.4,126.88L923.6,127.03L924.9,126.54L926.1,126.90L927.4,127.15L928.6,126.61L929.9,127.15L931.1,127.03L932.4,127.19L933.7,126.68L934.9,126.44L936.2,127.15L937.4,127.15L938.7,126.79L939.9,126.44L941.2,126.54L942.4,126.98L943.7,126.64L944.9,127.30L946.2,126.94L947.4,126.55L948.7,127.00L949.9,126.71L951.2,127.28L952.4,127.26L953.7,126.86L954.9,126.99L956.2,127.05L957.4,127.15L958.7,127.33L959.9,126.38L961.2,126.71L962.5,126.95L963.7,126.65L965.0,126.94L966.2,126.44L967.5,127.23L968.7,126.88L970.0,126.47L971.2,127.01L972.5,126.66L973.7,126.55L975.0,126.84L976.2,126.49L977.5,126.56L978.7,127.22L980.0,127.05L981.2,126.37L982.5,127.13L983.7,126.37L985.0,126.69L986.2,127.26L987.5,126.98L988.7,126.66L990.0,126.73L991.3,126.74L992.5,126.48L993.8,127.36L995.0,126.41L996.3,126.78L997.5,127.10L998.8,126.75L1000.0,127.34L1001.3,126.60L1002.5,127.34L1003.8,127.25L1005.0,127.03L1006.3,127.25L1007.5,126.81L1008.8,127.19L1010.0,127.16L1011.3,126.88L1012.5,126.83L1013.8,127.07L1015.0,126.77L1016.3,126.45L1017.5,127.11L1018.8,126.63L1020.1,126.85L1021.3,127.15L1022.6,126.53L1023.8,126.38L1025.1,126.49L1026.3,126.95L1027.6,126.72L1028.8,126.62L1030.1,126.81L1031.3,127.29L1032.6,126.62L1033.8,126.77L1035.1,127.24L1036.3,126.98L1037.6,126.63L1038.8,126.84L1040.1,126.84L1041.3,126.51L1042.6,126.74L1043.8,126.67L1045.1,127.17L1046.3,126.69L1047.6,127.03L1048.9,127.34L1050.1,127.29L1051.4,126.74L1052.6,126.97L1053.9,126.69L1055.1,126.77L1056.4,126.86L1057.6,127.16L1058.9,127.30L1060.1,126.66L1061.4,126.37L1062.6,126.82L1063.9,126.43L1065.1,126.40L1066.4,127.14L1067.6,126.48L1068.9,127.09L1070.1,126.73L1071.4,127.31L1072.6,127.22L1073.9,126.43L1075.1,126.56L1076.4,127.32L1077.7,126.99L1078.9,126.79L1080.2,127.15L1081.4,127.19L1082.7,126.86L1083.9,126.84L1085.2,126.47L1086.4,126.74L1087.7,126.52L1088.9,127.00L1090.2,126.98L1091.4,126.52L1092.7,127.00L1093.9,126.47L1095.2,126.48L1096.4,127.02L1097.7,126.84L1098.9,127.28L1100.2,127.00L1101.4,127.08L1102.7,126.50L1103.9,127.21L1105.2,126.46L1106.5,127.00L1107.7,127.29L1109.0,127.29L1110.2,127.27L1111.5,126.83L1112.7,127.07L1114.0,127.17L1115.2,126.52L1116.5,127.32L1117.7,127.29L1119.0,126.82L1120.2,127.16L1121.5,126.83L1122.7,126.66L1124.0,127.09L1125.2,126.44L1126.5,127.18L1127.7,127.36L1129.0,126.67L1130.2,127.32L1131.5,126.47L1132.7,127.24L1134.0,126.66L1135.3,127.35L1136.5,126.81L1137.8,127.30L1139.0,126.41L1140.3,126.47L1141.5,127.20L1142.8,127.02L1144.0,126.92L1145.3,126.42L1146.5,126.56L1147.8,126.76L1149.0,126.44L1150.3,127.38L1151.5,127.15L1152.8,127.34L1154.0,127.09L1155.3,126.73L1156.5,126.46L1157.8,127.12L1159.0,126.50L1160.3,126.93L1161.5,126.85L1162.8,126.88L1164.1,126.46L1165.3,126.46L1166.6,126.91L1167.8,126.42L1169.1,126.91L1170.3,126.54L1171.6,126.67L1172.8,126.54L1174.1,126.96L1175.3,126.78L1176.6,126.61L1177.8,126.61L1179.1,126.95L1180.3,127.30L1181.6,126.81L1182.8,126.55L1184.1,126.71L1185.3,126.63L1186.6,126.96L1187.8,127.18L1189.1,126.96L1190.3,126.58L1191.6,126.72L1192.9,126.77L1194.1,126.83L1195.4,126.79L1196.6,127.39L1197.9,126.94L1199.1,127.06L1200.4,127.11L1201.6,127.04L1202.9,127.20L1204.1,126.77L1205.4,127.06L1206.6,127.37L1207.9,126.56L1209.1,127.02L1210.4,126.78L1211.6,126.46L1212.9,126.44L1214.1,127.16L1215.4,126.51L1216.6,127.11L1217.9,126.50L1219.1,126.77L1220.4,126.43L1221.7,126.94L1222.9,127.18L1224.2,126.62L1225.4,126.96L1226.7,127.32L1227.9,126.69L1229.2,126.87L1230.4,127.12L1231.7,127.26L1232.9,126.57L1234.2,127.06L1235.4,126.52L1236.7,126.51L1237.9,127.38L1239.2,126.45L1240.4,127.32L1241.7,127.15L1242.9,127.08L1244.2,127.13L1245.4,127.05L1246.7,126.69L1247.9,126.85L1249.2,126.61L1250.5,127.26L1251.7,127.18L1253.0,127.19L1254.2,126.62L1255.5,127.00L1256.7,126.66L1258.0,127.20L1259.2,127.15L1260.5,127.40L1261.7,127.11L1263.0,127.09L1264.2,127.18L1265.5,126.50L1266.7,127.00L1268.0,126.44L1269.2,126.77L1270.5,126.52L1271.7,127.36L1273.0,126.44L1274.2,127.33L1275.5,127.36L1276.7,126.84L1278.0,127.24L1279.2,126.46L1280.5,126.55L1281.8,126.42L1283.0,126.48L1284.3,126.41L1285.5,127.24L1286.8,126.50L1288.0,127.00L1289.3,126.68L1290.5,126.54L1291.8,126.83L1293.0,126.59L1294.3,127.39L1295.5,126.80L1296.8,127.01L1298.0,126.98L1299.3,127.04L1300.5,126.89L1301.8,126.68L1303.0,126.55L1304.3,127.30L1305.5,126.61L1306.8,126.86L1308.0,127.22L1309.3,126.99L1310.6,127.36L1311.8,127.22L1313.1,126.93L1314.3,126.54L1315.6,127.01L1316.8,126.89L1318.1,127.28L1319.3,126.95L1320.6,127.11L1321.8,127.23L1323.1,126.89L1324.3,127.26L1325.6,127.32L1326.8,126.57L1328.1,127.34L1329.3,127.29L1330.6,127.27L1331.8,126.76L1333.1,126.67L1334.3,126.55L1335.6,126.79L1336.8,127.27L1338.1,126.78L1339.4,126.43L1340.6,126.73L1341.9,126.50L1343.1,127.04L1344.4,127.19L1345.6,127.35L1346.9,126.51L1348.1,126.80L1349.4,126.55L1350.6,127.33L1351.9,127.26L1353.1,126.94L1354.4,127.38L1355.6,126.94L1356.9,127.20L1358.1,126.91L1359.4,126.79L1360.6,127.42L1361.9,127.27L1363.1,127.02L1364.4,127.29L1365.6,127.07L1366.9,127.22L1368.2,126.49L1369.4,126.56L1370.7,126.54L1371.9,127.03L1373.2,127.15L1374.4,126.58L1375.7,126.93L1376.9,126.54L1378.2,127.12L1379.4,127.21L1380.7,126.51L1381.9,127.41L1383.2,127.09L1384.4,126.55L1385.7,126.78L1386.9,126.59L1388.2,127.16L1389.4,127.35L1390.7,126.60L1391.9,126.61L1393.2,127.06L1394.4,127.29L1395.7,127.17L1397.0,126.89L1398.2,126.54L1399.5,127.05L1400.7,126.89L1402.0,127.24L1403.2,127.00L1404.5,127.17L1405.7,127.40L1407.0,127.06L1408.2,127.34L1409.5,126.71L1410.7,126.44L1412.0,127.32L1413.2,126.46L1414.5,127.43L1415.7,126.89L1417.0,126.50L1418.2,126.71L1419.5,127.16L1420.7,126.82L1422.0,127.06L1423.2,126.54L1424.5,127.27L1425.8,126.81L1427.0,127.27L1428.3,126.58L1429.5,127.10L1430.8,126.91L1432.0,126.84L1433.3,126.46L1434.5,126.97L1435.8,127.28L1437.0,126.54L1438.3,126.88L1439.5,126.45L1440.8,127.43L1442.0,127.41L1443.3,127.12L1444.5,126.92L1445.8,126.51L1447.0,126.56L1448.3,127.15L1449.5,127.24L1450.8,127.43L1452.0,127.30L1453.3,126.94" fill="none" stroke="#D95319" stroke-width="2.9" stroke-opacity="1" stroke-linejoin="miter" stroke-miterlimit="2"/>
<path d="M902.5,124.3L903.6,127.4L904.9,127.17L906.1,127.00L907.4,127.50L908.6,126.92L909.9,127.39L911.1,127.22L912.4,126.91L913.6,127.36L914.9,126.89L916.1,127.28L917.4,126.92L918.6,126.94L919.9,127.27L921.1,127.68L922.4,126.97L923.6,127.07L924.9,127.48L926.1,127.80L927.4,127.43L928.6,127.25L929.9,127.83L931.1,126.90L932.4,127.71L933.7,127.14L934.9,126.99L936.2,126.97L937.4,127.16L938.7,127.67L939.9,127.03L941.2,127.43L942.4,127.49L943.7,127.22L944.9,127.40L946.2,126.91L947.4,126.91L948.7,127.06L949.9,127.53L951.2,127.28L952.4,127.16L953.7,127.44L954.9,127.30L956.2,127.15L957.4,127.64L958.7,127.55L959.9,127.09L961.2,127.42L962.5,127.38L963.7,127.73L965.0,127.58L966.2,127.14L967.5,127.83L968.7,126.97L970.0,127.27L971.2,127.61L972.5,127.00L973.7,127.34L975.0,126.89L976.2,127.52L977.5,127.61L978.7,127.42L980.0,127.73L981.2,127.16L982.5,127.55L983.7,127.44L985.0,127.43L986.2,127.31L987.5,127.69L988.7,127.79L990.0,127.32L991.3,127.51L992.5,126.91L993.8,127.55L995.0,127.50L996.3,127.84L997.5,127.67L998.8,127.13L1000.0,127.24L1001.3,127.52L1002.5,126.87L1003.8,127.31L1005.0,127.02L1006.3,126.97L1007.5,126.91L1008.8,127.62L1010.0,126.98L1011.3,127.10L1012.5,127.24L1013.8,127.72L1015.0,126.93L1016.3,127.30L1017.5,127.40L1018.8,127.73L1020.1,127.67L1021.3,127.71L1022.6,127.13L1023.8,127.27L1025.1,127.21L1026.3,127.73L1027.6,127.81L1028.8,127.00L1030.1,127.03L1031.3,127.08L1032.6,127.08L1033.8,127.33L1035.1,127.44L1036.3,127.11L1037.6,126.85L1038.8,127.27L1040.1,127.22L1041.3,127.42L1042.6,127.80L1043.8,127.54L1045.1,127.37L1046.3,127.47L1047.6,127.53L1048.9,126.90L1050.1,127.75L1051.4,127.63L1052.6,127.72L1053.9,127.65L1055.1,127.24L1056.4,127.25L1057.6,126.95L1058.9,127.48L1060.1,126.91L1061.4,126.92L1062.6,127.06L1063.9,127.01L1065.1,127.19L1066.4,126.90L1067.6,126.85L1068.9,127.00L1070.1,126.95L1071.4,127.21L1072.6,126.88L1073.9,127.72L1075.1,127.46L1076.4,127.00L1077.7,127.10L1078.9,127.20L1080.2,127.21L1081.4,126.97L1082.7,127.70L1083.9,127.84L1085.2,127.32L1086.4,127.33L1087.7,126.94L1088.9,126.95L1090.2,127.19L1091.4,127.11L1092.7,127.68L1093.9,127.01L1095.2,126.87L1096.4,127.80L1097.7,127.38L1098.9,127.00L1100.2,127.39L1101.4,126.88L1102.7,127.38L1103.9,127.83L1105.2,127.71L1106.5,127.55L1107.7,127.11L1109.0,127.22L1110.2,127.02L1111.5,127.62L1112.7,127.38L1114.0,127.63L1115.2,127.18L1116.5,127.07L1117.7,127.66L1119.0,127.83L1120.2,127.70L1121.5,127.66L1122.7,127.67L1124.0,127.59L1125.2,127.08L1126.5,127.37L1127.7,127.21L1129.0,126.88L1130.2,126.88L1131.5,127.13L1132.7,127.11L1134.0,127.54L1135.3,127.81L1136.5,127.30L1137.8,127.79L1139.0,127.84L1140.3,127.81L1141.5,127.21L1142.8,127.07L1144.0,127.08L1145.3,127.05L1146.5,127.05L1147.8,127.47L1149.0,127.75L1150.3,127.69L1151.5,127.33L1152.8,127.50L1154.0,127.65L1155.3,126.93L1156.5,127.51L1157.8,127.76L1159.0,127.63L1160.3,127.60L1161.5,127.33L1162.8,127.03L1164.1,127.64L1165.3,127.18L1166.6,127.65L1167.8,127.82L1169.1,127.25L1170.3,127.25L1171.6,127.80L1172.8,127.57L1174.1,127.02L1175.3,126.98L1176.6,127.00L1177.8,127.75L1179.1,127.66L1180.3,127.00L1181.6,127.68L1182.8,127.83L1184.1,127.51L1185.3,127.20L1186.6,127.40L1187.8,126.98L1189.1,126.86L1190.3,127.82L1191.6,127.50L1192.9,127.38L1194.1,127.78L1195.4,127.28L1196.6,127.72L1197.9,127.68L1199.1,127.06L1200.4,127.10L1201.6,127.14L1202.9,127.09L1204.1,127.44L1205.4,127.11L1206.6,127.27L1207.9,126.98L1209.1,127.76L1210.4,127.20L1211.6,127.31L1212.9,127.43L1214.1,127.75L1215.4,127.27L1216.6,127.77L1217.9,127.35L1219.1,127.38L1220.4,127.37L1221.7,126.87L1222.9,127.29L1224.2,127.03L1225.4,126.85L1226.7,127.65L1227.9,127.02L1229.2,127.32L1230.4,127.58L1231.7,127.41L1232.9,127.18L1234.2,127.37L1235.4,127.41L1236.7,127.63L1237.9,126.96L1239.2,127.41L1240.4,127.10L1241.7,127.13L1242.9,127.62L1244.2,127.36L1245.4,127.41L1246.7,127.61L1247.9,127.76L1249.2,127.29L1250.5,127.46L1251.7,127.36L1253.0,127.36L1254.2,127.54L1255.5,127.30L1256.7,127.38L1258.0,127.33L1259.2,127.79L1260.5,127.55L1261.7,127.73L1263.0,127.79L1264.2,127.11L1265.5,127.41L1266.7,127.79L1268.0,127.69L1269.2,126.99L1270.5,126.97L1271.7,127.29L1273.0,126.92L1274.2,127.09L1275.5,126.92L1276.7,127.52L1278.0,127.63L1279.2,127.75L1280.5,127.00L1281.8,127.57L1283.0,127.51L1284.3,126.99L1285.5,127.73L1286.8,127.82L1288.0,127.07L1289.3,127.80L1290.5,127.25L1291.8,127.34L1293.0,127.84L1294.3,127.68L1295.5,127.01L1296.8,127.28L1298.0,127.37L1299.3,127.19L1300.5,127.05L1301.8,127.17L1303.0,127.57L1304.3,126.87L1305.5,127.40L1306.8,127.29L1308.0,126.87L1309.3,127.18L1310.6,127.47L1311.8,127.36L1313.1,126.91L1314.3,127.84L1315.6,127.64L1316.8,127.82L1318.1,126.95L1319.3,127.12L1320.6,126.89L1321.8,127.63L1323.1,127.12L1324.3,126.98L1325.6,127.27L1326.8,127.76L1328.1,127.67L1329.3,127.11L1330.6,127.00L1331.8,127.77L1333.1,127.42L1334.3,127.55L1335.6,126.94L1336.8,126.91L1338.1,127.54L1339.4,127.28L1340.6,126.92L1341.9,127.79L1343.1,127.48L1344.4,127.65L1345.6,126.93L1346.9,127.71L1348.1,126.92L1349.4,127.71L1350.6,127.30L1351.9,127.19L1353.1,127.40L1354.4,127.78L1355.6,127.12L1356.9,126.98L1358.1,127.38L1359.4,127.09L1360.6,126.96L1361.9,127.01L1363.1,126.90L1364.4,127.05L1365.6,127.16L1366.9,127.16L1368.2,127.61L1369.4,127.14L1370.7,127.35L1371.9,127.03L1373.2,127.20L1374.4,126.87L1375.7,127.10L1376.9,126.87L1378.2,127.58L1379.4,127.40L1380.7,127.04L1381.9,127.32L1383.2,127.78L1384.4,126.96L1385.7,127.67L1386.9,127.28L1388.2,127.35L1389.4,127.68L1390.7,127.24L1391.9,127.36L1393.2,127.54L1394.4,127.83L1395.7,127.19L1397.0,127.68L1398.2,127.56L1399.5,127.49L1400.7,127.25L1402.0,127.20L1403.2,126.90L1404.5,126.98L1405.7,126.92L1407.0,127.59L1408.2,127.11L1409.5,127.01L1410.7,126.93L1412.0,127.69L1413.2,127.72L1414.5,127.52L1415.7,127.13L1417.0,127.09L1418.2,127.14L1419.5,127.31L1420.7,127.01L1422.0,127.30L1423.2,127.11L1424.5,127.81L1425.8,127.82L1427.0,127.40L1428.3,127.09L1429.5,127.82L1430.8,127.16L1432.0,127.21L1433.3,126.85L1434.5,127.23L1435.8,127.32L1437.0,127.35L1438.3,127.05L1439.5,127.35L1440.8,126.85L1442.0,127.11L1443.3,126.94L1444.5,127.25L1445.8,126.89L1447.0,126.87L1448.3,127.15L1449.5,127.08L1450.8,127.44L1452.0,127.38L1453.3,127.35" fill="none" stroke="#EDB120" stroke-width="2.9" stroke-opacity="0.78" stroke-linejoin="miter" stroke-miterlimit="2"/>
<path d="M902.5,25.2L902.5,122.7L903.8,122.77L905.0,122.89L906.3,122.95L907.5,123.09L908.8,122.89L910.0,123.07L911.3,122.18L912.5,122.62L913.8,123.09L915.0,122.80L916.3,123.05L917.5,122.26L918.8,122.62L920.0,122.40L921.3,122.70L922.5,122.73L923.8,122.16L925.0,122.37L926.3,122.43L927.5,123.07L928.8,122.92L930.0,122.31L931.3,122.95L932.5,122.29L933.8,122.77L935.0,122.28L936.3,122.15L937.6,123.02L938.8,122.36L940.1,122.37L941.3,123.13L942.6,123.02L943.8,122.44L945.1,123.11L946.3,122.69L947.6,122.83L948.8,122.36L950.1,123.09L951.3,122.84L952.6,123.12L953.8,123.05L955.1,122.45L956.3,122.51L957.6,122.32L958.8,122.30L960.1,122.22L961.3,122.45L962.6,122.76L963.8,122.16L965.1,122.83L966.3,122.49L967.6,122.46L968.8,122.97L970.1,122.63L971.4,122.47L972.6,122.63L973.9,122.86L975.1,122.21L976.4,123.13L977.6,122.18L978.9,122.90L980.1,123.00L981.4,122.17L982.6,122.94L983.9,122.52L985.1,122.73L986.4,122.16L987.6,122.20L988.9,122.33L990.1,123.11L991.4,122.35L992.6,122.91L993.9,123.08L995.1,123.10L996.4,122.50L997.6,122.51L998.9,122.68L1000.1,122.93L1001.4,122.26L1002.6,122.90L1003.9,122.95L1005.1,123.01L1006.4,122.19L1007.7,123.10L1008.9,122.24L1010.2,122.49L1011.4,122.76L1012.7,123.07L1013.9,122.49L1015.2,123.08L1016.4,122.70L1017.7,122.47L1018.9,122.47L1020.2,122.33L1021.4,122.23L1022.7,122.30L1023.9,122.84L1025.2,123.15L1026.4,122.32L1027.7,122.20L1028.9,123.14L1030.2,122.69L1031.4,122.56L1032.7,122.39L1033.9,122.75L1035.2,122.98L1036.4,122.61L1037.7,122.58L1038.9,122.21L1040.2,123.07L1041.5,122.19L1042.7,122.65L1044.0,122.99L1045.2,122.28L1046.5,122.89L1047.7,123.10L1049.0,122.78L1050.2,122.94L1051.5,122.26L1052.7,122.59L1054.0,122.30L1055.2,123.00L1056.5,122.45L1057.7,122.61L1059.0,123.15L1060.2,123.01L1061.5,123.13L1062.7,122.61L1064.0,122.64L1065.2,122.88L1066.5,122.63L1067.7,122.45L1069.0,122.56L1070.2,122.30L1071.5,122.53L1072.7,123.14L1074.0,123.11L1075.3,122.78L1076.5,122.65L1077.8,122.49L1079.0,122.24L1080.3,122.43L1081.5,122.94L1082.8,123.02L1084.0,122.52L1085.3,122.94L1086.5,122.93L1087.8,122.85L1089.0,122.82L1090.3,122.91L1091.5,122.52L1092.8,122.86L1094.0,122.44L1095.3,122.64L1096.5,122.92L1097.8,122.85L1099.0,122.45L1100.3,123.10L1101.5,122.80L1102.8,122.74L1104.0,122.17L1105.3,122.70L1106.5,122.41L1107.8,122.83L1109.0,122.62L1110.3,122.97L1111.6,122.80L1112.8,122.95L1114.1,122.50L1115.3,122.80L1116.6,122.89L1117.8,122.98L1119.1,122.51L1120.3,123.00L1121.6,123.03L1122.8,122.84L1124.1,123.13L1125.3,123.11L1126.6,122.67L1127.8,122.69L1129.1,122.32L1130.3,122.99L1131.6,123.09L1132.8,122.63L1134.1,122.85L1135.3,122.88L1136.6,122.89L1137.8,122.33L1139.1,122.94L1140.3,122.74L1141.6,122.82L1142.8,122.58L1144.1,122.78L1145.4,122.93L1146.6,122.79L1147.9,122.88L1149.1,122.18L1150.4,122.32L1151.6,122.60L1152.9,122.81L1154.1,122.38L1155.4,122.84L1156.6,122.79L1157.9,122.20L1159.1,122.63L1160.4,122.38L1161.6,122.21L1162.9,122.29L1164.1,122.47L1165.4,122.34L1166.6,122.35L1167.9,122.19L1169.1,122.62L1170.4,122.54L1171.6,122.77L1172.9,122.75L1174.1,122.39L1175.4,123.06L1176.6,122.16L1177.9,122.56L1179.2,122.44L1180.4,122.57L1181.7,122.27L1182.9,122.99L1184.2,122.53L1185.4,122.19L1186.7,122.77L1187.9,122.25L1189.2,122.70L1190.4,122.50L1191.7,122.74L1192.9,123.12L1194.2,122.98L1195.4,122.58L1196.7,122.97L1197.9,122.80L1199.2,122.53L1200.4,122.30L1201.7,122.75L1202.9,122.72L1204.2,123.11L1205.4,123.13L1206.7,122.77L1207.9,122.51L1209.2,123.05L1210.4,122.16L1211.7,122.27L1213.0,122.72L1214.2,122.77L1215.5,122.30L1216.7,122.79L1218.0,123.05L1219.2,122.53L1220.5,122.59L1221.7,122.38L1223.0,122.45L1224.2,123.13L1225.5,122.54L1226.7,123.12L1228.0,123.07L1229.2,122.75L1230.5,122.42L1231.7,123.14L1233.0,122.65L1234.2,122.57L1235.5,122.48L1236.7,123.14L1238.0,122.65L1239.2,122.44L1240.5,122.63L1241.7,122.28L1243.0,122.78L1244.2,122.60L1245.5,122.45L1246.8,122.94L1248.0,122.98L1249.3,122.17L1250.5,122.69L1251.8,122.43L1253.0,123.09L1254.3,122.94L1255.5,122.40L1256.8,122.43L1258.0,122.31L1259.3,123.15L1260.5,122.45L1261.8,122.77L1263.0,122.63L1264.3,122.80L1265.5,122.76L1266.8,122.90L1268.0,122.28L1269.3,122.92L1270.5,122.46L1271.8,122.69L1273.0,122.49L1274.3,122.46L1275.5,122.69L1276.8,122.62L1278.0,122.52L1279.3,122.90L1280.5,122.75L1281.8,122.20L1283.1,122.41L1284.3,122.61L1285.6,123.08L1286.8,123.05L1288.1,122.70L1289.3,122.17L1290.6,122.94L1291.8,122.59L1293.1,122.73L1294.3,122.87L1295.6,122.79L1296.8,122.64L1298.1,123.07L1299.3,122.54L1300.6,122.55L1301.8,123.01L1303.1,122.36L1304.3,122.46L1305.6,122.99L1306.8,122.23L1308.1,123.00L1309.3,122.85L1310.6,122.59L1311.8,122.45L1313.1,122.94L1314.3,123.07L1315.6,122.30L1316.9,122.64L1318.1,122.71L1319.4,122.66L1320.6,122.49L1321.9,122.31L1323.1,122.75L1324.4,122.97L1325.6,122.23L1326.9,122.39L1328.1,122.98L1329.4,122.95L1330.6,122.82L1331.9,122.19L1333.1,122.88L1334.4,123.14L1335.6,123.16L1336.9,122.86L1338.1,122.21L1339.4,123.00L1340.6,122.38L1341.9,122.81L1343.1,123.11L1344.4,122.87L1345.6,122.29L1346.9,122.45L1348.1,123.08L1349.4,122.31L1350.7,122.77L1351.9,122.57L1353.2,122.32L1354.4,122.78L1355.7,122.20L1356.9,122.27L1358.2,122.54L1359.4,122.23L1360.7,122.22L1361.9,122.74L1363.2,122.90L1364.4,123.04L1365.7,122.29L1366.9,122.59L1368.2,122.48L1369.4,122.76L1370.7,122.65L1371.9,123.10L1373.2,122.53L1374.4,122.22L1375.7,122.86L1376.9,122.31L1378.2,122.79L1379.4,122.67L1380.7,123.07L1381.9,122.72L1383.2,122.78L1384.4,122.42L1385.7,122.71L1387.0,122.42L1388.2,122.91L1389.5,122.68L1390.7,122.29L1392.0,122.40L1393.2,122.53L1394.5,122.90L1395.7,122.34L1397.0,122.87L1398.2,122.82L1399.5,122.25L1400.7,122.83L1402.0,122.25L1403.2,122.29L1404.5,122.76L1405.7,122.40L1407.0,123.04L1408.2,122.64L1409.5,122.48L1410.7,122.96L1412.0,122.19L1413.2,122.89L1414.5,122.22L1415.7,122.31L1417.0,123.11L1418.2,122.84L1419.5,122.38L1420.8,122.28L1422.0,123.13L1423.3,122.83L1424.5,122.98L1425.8,122.30L1427.0,122.79L1428.3,122.52L1429.5,122.40L1430.8,122.50L1432.0,122.78L1433.3,122.51L1434.5,122.55L1435.8,122.30L1437.0,122.99L1438.3,122.81L1439.5,122.97L1440.8,122.60L1442.0,123.01L1443.3,122.68L1444.5,122.75L1445.8,122.74L1447.0,122.90L1448.3,122.56L1449.5,122.26L1450.8,122.20L1452.0,122.36L1453.3,122.66" fill="none" stroke="#0072BD" stroke-width="2.7" stroke-opacity="1" stroke-linejoin="miter" stroke-miterlimit="2"/>
<path d="M902.5,124.3L902.5,390.4L903.9,393.5L906.9,394.8L908.3,394.58L909.6,395.40L910.9,394.64L912.3,395.30L913.6,394.76L915.0,395.00L916.3,395.83L917.7,395.12L919.0,395.49L920.3,395.64L921.5,395.45L922.8,395.45L924.0,395.49L925.3,395.19L926.5,395.82L927.8,395.08L929.0,395.23L930.3,395.01L931.5,395.26L932.8,395.40L934.0,395.90L935.3,395.37L936.5,395.11L937.8,395.25L939.0,395.99L940.3,395.06L941.5,395.61L942.8,395.37L944.0,395.65L945.3,395.33L946.6,395.69L947.8,395.49L949.1,395.64L950.3,395.90L951.6,395.58L952.8,395.14L954.1,395.06L955.3,395.94L956.6,395.48L957.8,395.19L959.1,395.94L960.3,395.57L961.6,395.72L962.8,395.87L964.1,395.28L965.3,395.35L966.6,395.87L967.8,395.13L969.1,395.76L970.3,395.09L971.6,395.68L972.8,395.70L974.1,395.94L975.3,395.84L976.6,395.50L977.8,395.19L979.1,395.14L980.3,395.52L981.6,395.50L982.8,395.07L984.1,395.90L985.3,395.50L986.6,395.70L987.8,395.21L989.1,395.24L990.3,395.01L991.6,395.34L992.8,395.26L994.1,395.42L995.3,395.37L996.6,395.83L997.9,395.89L999.1,395.17L1000.4,395.39L1001.6,395.16L1002.9,395.66L1004.1,395.97L1005.4,395.20L1006.6,395.76L1007.9,395.29L1009.1,395.01L1010.4,395.76L1011.6,395.34L1012.9,395.16L1014.1,395.43L1015.4,395.23L1016.6,395.40L1017.9,395.44L1019.1,395.41L1020.4,395.58L1021.6,395.28L1022.9,395.09L1024.1,395.08L1025.4,395.10L1026.6,395.51L1027.9,395.35L1029.1,395.80L1030.4,395.50L1031.6,395.70L1032.9,395.97L1034.1,395.06L1035.4,395.01L1036.6,395.13L1037.9,395.38L1039.1,395.57L1040.4,395.74L1041.6,395.35L1042.9,395.96L1044.1,395.00L1045.4,395.83L1046.6,395.20L1047.9,395.87L1049.2,395.03L1050.4,395.96L1051.7,395.75L1052.9,395.98L1054.2,395.57L1055.4,395.17L1056.7,395.96L1057.9,395.44L1059.2,395.08L1060.4,395.60L1061.7,395.49L1062.9,395.47L1064.2,395.15L1065.4,395.12L1066.7,395.57L1067.9,395.45L1069.2,395.12L1070.4,395.43L1071.7,395.72L1072.9,395.71L1074.2,395.47L1075.4,395.39L1076.7,395.35L1077.9,395.22L1079.2,395.19L1080.4,395.44L1081.7,395.10L1082.9,395.72L1084.2,395.70L1085.4,395.61L1086.7,395.02L1087.9,395.36L1089.2,395.43L1090.4,395.09L1091.7,395.96L1092.9,395.75L1094.2,395.50L1095.4,395.70L1096.7,395.19L1098.0,395.22L1099.2,395.52L1100.5,395.74L1101.7,395.64L1103.0,395.00L1104.2,395.61L1105.5,395.90L1106.7,395.74L1108.0,395.92L1109.2,395.98L1110.5,395.22L1111.7,395.29L1113.0,395.54L1114.2,395.97L1115.5,395.36L1116.7,395.94L1118.0,395.84L1119.2,395.51L1120.5,395.62L1121.7,395.95L1123.0,395.78L1124.2,395.29L1125.5,395.84L1126.7,395.19L1128.0,395.36L1129.2,395.95L1130.5,395.84L1131.7,395.31L1133.0,395.28L1134.2,395.61L1135.5,395.84L1136.7,395.68L1138.0,395.93L1139.2,395.72L1140.5,395.81L1141.7,395.60L1143.0,395.36L1144.2,395.42L1145.5,395.48L1146.7,395.52L1148.0,395.83L1149.3,395.26L1150.5,395.06L1151.8,395.73L1153.0,395.26L1154.3,395.41L1155.5,395.11L1156.8,395.82L1158.0,395.27L1159.3,395.29L1160.5,395.80L1161.8,395.50L1163.0,395.27L1164.3,395.88L1165.5,395.41L1166.8,395.36L1168.0,395.96L1169.3,395.78L1170.5,395.74L1171.8,395.24L1173.0,395.81L1174.3,395.59L1175.5,395.82L1176.8,395.36L1178.0,395.77L1179.3,395.79L1180.5,395.38L1181.8,395.65L1183.0,395.77L1184.3,395.99L1185.5,395.91L1186.8,395.78L1188.0,395.13L1189.3,395.60L1190.5,395.68L1191.8,395.08L1193.0,395.46L1194.3,395.86L1195.5,395.90L1196.8,395.92L1198.0,395.09L1199.3,395.60L1200.6,395.86L1201.8,395.65L1203.1,395.31L1204.3,395.03L1205.6,395.91L1206.8,395.85L1208.1,395.65L1209.3,395.36L1210.6,395.82L1211.8,395.81L1213.1,395.72L1214.3,395.59L1215.6,395.31L1216.8,395.29L1218.1,395.35L1219.3,395.32L1220.6,395.51L1221.8,395.11L1223.1,395.72L1224.3,395.34L1225.6,395.15L1226.8,395.25L1228.1,395.38L1229.3,395.42L1230.6,395.78L1231.8,395.09L1233.1,395.22L1234.3,395.29L1235.6,395.17L1236.8,395.74L1238.1,395.10L1239.3,395.04L1240.6,395.55L1241.8,395.73L1243.1,395.82L1244.3,395.55L1245.6,395.32L1246.8,395.88L1248.1,395.73L1249.3,395.47L1250.6,395.56L1251.9,395.93L1253.1,395.99L1254.4,395.92L1255.6,395.13L1256.9,395.32L1258.1,395.40L1259.4,395.16L1260.6,395.76L1261.9,395.05L1263.1,395.88L1264.4,395.58L1265.6,395.61L1266.9,395.41L1268.1,395.93L1269.4,395.57L1270.6,395.89L1271.9,395.92L1273.1,395.69L1274.4,395.98L1275.6,395.48L1276.9,395.36L1278.1,395.84L1279.4,395.52L1280.6,395.30L1281.9,395.67L1283.1,395.47L1284.4,395.12L1285.6,395.83L1286.9,395.49L1288.1,395.97L1289.4,395.53L1290.6,395.93L1291.9,395.28L1293.1,395.21L1294.4,395.52L1295.6,395.76L1296.9,395.82L1298.1,395.64L1299.4,395.12L1300.6,395.39L1301.9,395.03L1303.2,395.37L1304.4,395.94L1305.7,395.34L1306.9,395.69L1308.2,395.62L1309.4,395.14L1310.7,395.68L1311.9,395.07L1313.2,395.18L1314.4,395.57L1315.7,395.12L1316.9,395.96L1318.2,395.42L1319.4,395.62L1320.7,395.96L1321.9,395.10L1323.2,395.99L1324.4,395.03L1325.7,395.59L1326.9,395.65L1328.2,395.98L1329.4,395.35L1330.7,395.94L1331.9,395.64L1333.2,395.47L1334.4,395.16L1335.7,395.23L1336.9,395.36L1338.2,395.34L1339.4,395.37L1340.7,395.80L1341.9,395.37L1343.2,395.62L1344.4,395.03L1345.7,395.13L1346.9,395.70L1348.2,395.88L1349.4,395.31L1350.7,395.03L1352.0,395.23L1353.2,395.35L1354.5,395.36L1355.7,395.56L1357.0,395.30L1358.2,395.64L1359.5,395.78L1360.7,395.78L1362.0,395.74L1363.2,395.58L1364.5,395.25L1365.7,395.84L1367.0,395.28L1368.2,395.85L1369.5,395.44L1370.7,395.62L1372.0,395.49L1373.2,395.65L1374.5,395.33L1375.7,395.57L1377.0,395.73L1378.2,395.36L1379.5,395.59L1380.7,395.45L1382.0,395.46L1383.2,395.38L1384.5,395.54L1385.7,395.70L1387.0,395.17L1388.2,395.14L1389.5,395.82L1390.7,395.08L1392.0,395.79L1393.2,395.75L1394.5,395.21L1395.7,395.63L1397.0,395.25L1398.2,395.88L1399.5,395.19L1400.7,395.11L1402.0,395.03L1403.3,395.71L1404.5,395.21L1405.8,395.31L1407.0,395.97L1408.3,395.73L1409.5,395.73L1410.8,395.57L1412.0,395.63L1413.3,395.00L1414.5,395.81L1415.8,395.32L1417.0,395.85L1418.3,395.41L1419.5,395.91L1420.8,394.99L1422.0,395.97L1423.3,395.09L1424.5,395.50L1425.8,395.48L1427.0,395.98L1428.3,395.71L1429.5,395.98L1430.8,395.90L1432.0,395.42L1433.3,395.14L1434.5,395.14L1435.8,395.70L1437.0,395.95L1438.3,395.66L1439.5,395.34L1440.8,395.59L1442.0,395.65L1443.3,395.25L1444.5,395.69L1445.8,395.19L1447.0,395.02L1448.3,395.06L1449.5,395.48L1450.8,395.69L1452.0,395.22L1453.3,395.49" fill="none" stroke="#7E2F8E" stroke-width="2.5" stroke-opacity="1" stroke-linejoin="miter" stroke-miterlimit="2"/>
<text transform="translate(1177.9,520) scale(1,1)" text-anchor="middle" class="lb" font-size="35">Time(sec)</text>
<text transform="translate(832.4,228.5) rotate(-90) scale(1,1)" text-anchor="middle" class="lb" font-size="35">Lyapunov exponents</text>
<rect x="1347.4" y="202.2" width="109.89999999999986" height="124.19999999999999" fill="#fff" stroke="#262626" stroke-width="1.3"/>
<line x1="1351.4" y1="219.4" x2="1404.3" y2="219.4" stroke="#0072BD" stroke-width="2.3"/>
<text transform="translate(1407.7,228.8) scale(0.97,1)" class="lg" font-size="27.2">LE1</text>
<line x1="1351.4" y1="249.2" x2="1404.3" y2="249.2" stroke="#D95319" stroke-width="2.3"/>
<text transform="translate(1407.7,259.8) scale(0.97,1)" class="lg" font-size="27.2">LE2</text>
<line x1="1351.4" y1="279.9" x2="1404.3" y2="279.9" stroke="#EDB120" stroke-width="2.3"/>
<text transform="translate(1407.7,290.0) scale(0.97,1)" class="lg" font-size="27.2">LE3</text>
<line x1="1351.4" y1="309.8" x2="1404.3" y2="309.8" stroke="#7E2F8E" stroke-width="2.3"/>
<text transform="translate(1407.7,320.3) scale(0.97,1)" class="lg" font-size="27.2">LE4</text>
<circle cx="1288.06" cy="121.43" r="3.7" fill="#ece6b4" opacity="0.8"/>
<circle cx="1288.06" cy="121.43" r="2.6" fill="#1a1a1a"/>
<circle cx="1288.06" cy="126.33" r="4.5" fill="#ece6b4" opacity="0.8"/>
<circle cx="1288.06" cy="126.33" r="3.4" fill="#1a1a1a"/>
<circle cx="1288.06" cy="395.49" r="4.4" fill="#ece6b4" opacity="0.8"/>
<circle cx="1288.06" cy="395.49" r="3.3" fill="#1a1a1a"/>
<rect x="1289.8" y="57.5" width="87.70" height="63.20" rx="4.2" ry="4.2" fill="#f9f9fd" stroke="#969696" stroke-width="1.45"/>
<text x="1298.40" y="84.00" class="tl">X</text>
<text x="1298.40" y="108.80" class="tl">Y</text>
<text x="1315.50" y="84.00" class="tv">7000</text>
<text x="1315.50" y="108.80" class="tv">0.4589</text>
<rect x="1189.3" y="128.8" width="97.30" height="63.50" rx="4.2" ry="4.2" fill="#f9f9fd" stroke="#969696" stroke-width="1.45"/>
<text x="1197.90" y="155.30" class="tl">X</text>
<text x="1197.90" y="180.10" class="tl">Y</text>
<text x="1215.00" y="155.30" class="tv">7000</text>
<text x="1215.00" y="180.10" class="tv">0.07042</text>
<rect x="1289.8" y="129.7" width="112.50" height="63.20" rx="4.2" ry="4.2" fill="#f9f9fd" stroke="#969696" stroke-width="1.45"/>
<text x="1298.40" y="156.20" class="tl">X</text>
<text x="1298.40" y="181.00" class="tl">Y</text>
<text x="1315.50" y="156.20" class="tv">7000</text>
<text x="1315.50" y="181.00" class="tv">-0.001413</text>
<rect x="1204" y="330.1" width="83.30" height="63.70" rx="4.2" ry="4.2" fill="#f9f9fd" stroke="#969696" stroke-width="1.45"/>
<text x="1212.60" y="356.60" class="tl">X</text>
<text x="1212.60" y="381.40" class="tl">Y</text>
<text x="1229.70" y="356.60" class="tv">7000</text>
<text x="1229.70" y="381.40" class="tv">-26.23</text>
<text x="372.6" y="570.6" text-anchor="middle" class="cap" font-size="46">(a) improved 4D hyperchaotic system</text>
<text x="1172.4" y="570.6" text-anchor="middle" class="cap" font-size="46">(b) 4D Chen hyperchaotic system</text>
</svg></body></html>
